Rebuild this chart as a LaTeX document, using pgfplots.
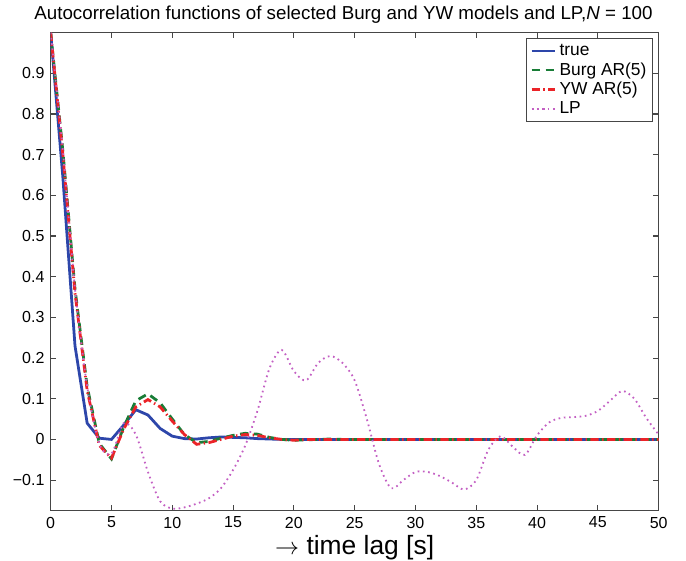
\documentclass[border=0pt]{standalone}
\usepackage{pgfplots}
\pgfplotsset{compat=1.18}
\usepackage{fontspec}
\setmainfont{Liberation Sans}
\definecolor{cblue}{RGB}{45,70,170}
\definecolor{cgreen}{RGB}{25,125,55}
\definecolor{cred}{RGB}{235,35,40}
\definecolor{clp}{RGB}{195,95,195}
\definecolor{caxis}{RGB}{70,70,70}

\pgfplotstableread{
lag val
0 1
1 0.645
2 0.23
3 0.04
4 0.003
5 0.0
6 0.035
7 0.073
8 0.06
9 0.027
10 0.008
11 0.002
12 0.001
13 0.004
14 0.006
15 0.005
16 0.004
17 0.002
18 0.001
19 0
20 0
25 0
30 0
35 0
40 0
45 0
50 0
}\truetab

\pgfplotstableread{
lag val
0 1
1 0.71
2 0.37
3 0.13
4 -0.01
5 -0.048
6 0.03
7 0.095
8 0.112
9 0.09
10 0.05
11 0.012
12 -0.008
13 -0.005
14 0.003
15 0.01
16 0.015
17 0.013
18 0.005
19 0.0
20 -0.002
21 -0.001
22 0.0
23 0.001
24 0.0
30 0
35 0
40 0
45 0
50 0
}\burgtab

\pgfplotstableread{
lag val
0 1
1 0.70
2 0.36
3 0.12
4 -0.015
5 -0.046
6 0.025
7 0.08
8 0.098
9 0.08
10 0.045
11 0.012
12 -0.012
13 -0.008
14 0.0
15 0.008
16 0.012
17 0.01
18 0.004
19 0.0
20 -0.002
21 0
25 0
30 0
35 0
40 0
45 0
50 0
}\ywtab

\pgfplotstableread{
lag val
0 1
1 0.71
2 0.37
3 0.13
4 -0.01
5 -0.035
6 0.04
7 0.012
8 -0.08
9 -0.152
10 -0.17
11 -0.167
12 -0.158
13 -0.145
14 -0.12
15 -0.075
16 -0.015
17 0.07
18 0.175
19 0.22
20 0.168
21 0.145
22 0.188
23 0.205
24 0.188
25 0.145
26 0.05
27 -0.06
28 -0.12
29 -0.1
30 -0.08
31 -0.08
32 -0.09
33 -0.106
34 -0.123
35 -0.1
36 -0.025
37 0.008
38 -0.018
39 -0.038
40 0.01
41 0.042
42 0.053
43 0.055
44 0.058
45 0.07
46 0.095
47 0.119
48 0.1
49 0.052
50 0.012
}\lptab

\begin{document}
\begin{tikzpicture}
\begin{axis}[
  scale only axis,
  width=437.8pt, height=344.2pt,
  xmin=0, xmax=50, ymin=-0.175, ymax=1,
  xtick={0,5,10,15,20,25,30,35,40,45,50},
  ytick={-0.1,0,0.1,0.2,0.3,0.4,0.5,0.6,0.7,0.8,0.9},
  yticklabels={−0.1,0,0.1,0.2,0.3,0.4,0.5,0.6,0.7,0.8,0.9},
  /pgf/number format/assume math mode=true,
  tick align=inside, tick pos=both,
  major tick length=4pt,
  axis line style={caxis, line width=1pt},
  tick style={caxis, line width=0.8pt},
  ticklabel style={font=\fontsize{11.5}{13}\selectfont},
  xticklabel style={yshift=-1pt},
  yticklabel style={xshift=-1pt},
  title={Autocorrelation functions of selected Burg and YW models and LP,\textit{N} = 100},
  title style={at={(axis description cs:0.4816,1)}, anchor=center, yshift=6.6pt, font=\fontsize{13.5}{15}\selectfont},
  xlabel={$\rightarrow$ time lag [s]},
  xlabel style={at={(axis description cs:0.5,0)}, anchor=center, yshift=-27pt, font=\fontsize{19}{21}\selectfont},
  legend style={at={(axis description cs:0.991,0.9895)}, anchor=north east,
    draw=caxis, line width=0.8pt, fill=white, font=\fontsize{12.5}{14}\selectfont,
    row sep=-0.5pt, inner sep=2.5pt},
  legend cell align=left,
]
\coordinate (bl) at (rel axis cs:0,0);
\coordinate (tr) at (rel axis cs:1,1);
\addplot[cblue, line width=2pt] table[x=lag,y=val] {\truetab};
\addlegendentry{true}
\addplot[cgreen, line width=2pt, dash pattern=on 6pt off 4pt] table[x=lag,y=val] {\burgtab};
\addlegendentry{Burg AR(5)}
\addplot[cred, line width=2pt, dash pattern=on 6pt off 2.5pt on 1pt off 2.5pt] table[x=lag,y=val] {\ywtab};
\addlegendentry{YW AR(5)}
\addplot[clp, line width=1.3pt, dash pattern=on 1.2pt off 2.6pt, smooth, tension=0.5] table[x=lag,y=val] {\lptab};
\addlegendentry{LP}
\end{axis}
\pgfresetboundingbox
\path ([xshift=-36.5pt, yshift=-36.2pt]bl) rectangle ([xshift=19.7pt, yshift=23.5pt]tr);
\end{tikzpicture}
\end{document}
